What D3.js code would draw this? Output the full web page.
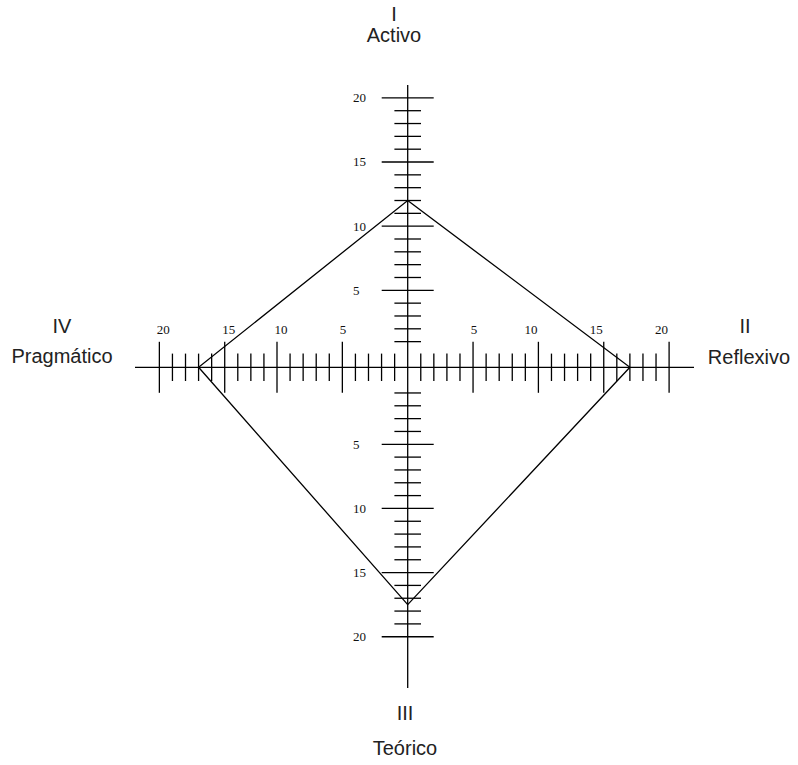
<!DOCTYPE html>
<html>
<head>
<meta charset="utf-8">
<script src="https://cdn.jsdelivr.net/npm/d3@7"></script>
<style>
  body { margin: 0; background: #fff; }
  svg { display: block; }
  .axis line { stroke: #000; stroke-width: 1.3; }
  .tick-label { font-family: "Liberation Serif", "Times New Roman", serif; font-size: 13px; fill: #111; }
  .roman, .style-name { font-family: "Liberation Sans", Arial, sans-serif; font-size: 20px; fill: #222; }
</style>
</head>
<body>
<svg width="798" height="765"></svg>
<script>
// learning styles (Honey-Alonso style profile)
const styles = ["Activo", "Reflexivo", "Teórico", "Pragmático"];
const romans = ["I", "II", "III", "IV"];
const scores = [12, 17, 17.5, 17];
const tickLabels = [5, 10, 15, 20];

// each arm was hand-drawn, so its value -> tick-unit mapping differs a little
const armDomain = [0, 5, 10, 15, 20];
const armUnits = [
  [1, 6, 11, 16, 21],   // top (Activo)
  [0, 5, 10, 15, 20],   // right (Reflexivo)
  [1, 6, 11, 16, 21],   // bottom (Teórico)
  [0, 5, 10, 14, 19]    // left (Pragmático)
];

const svg = d3.select("svg");
const cx = 407.7, cy = 367.3;
const unitV = 12.83, unitH = 13.07;

// direction of each arm: [dx, dy]
const dirs = [[0, -1], [1, 0], [0, 1], [-1, 0]];

const arms = styles.map((name, i) => {
  const unitScale = d3.scaleLinear().domain(armDomain).range(armUnits[i]);
  const px = dirs[i][0] !== 0 ? unitH : unitV;
  const dist = d3.scaleLinear().domain([0, 1]).range([0, px]);
  return {
    name, roman: romans[i], score: scores[i], dir: dirs[i],
    unitScale, dist,
    pos: v => {
      const d = dist(unitScale(v));
      return [cx + dirs[i][0] * d, cy + dirs[i][1] * d];
    },
    posUnit: u => {
      const d = dist(u);
      return [cx + dirs[i][0] * d, cy + dirs[i][1] * d];
    }
  };
});

const g = svg.append("g").attr("class", "axis");

// main axis lines
g.append("line").attr("x1", cx).attr("x2", cx).attr("y1", 85).attr("y2", 688);
g.append("line").attr("x1", 135).attr("x2", 694).attr("y1", cy).attr("y2", cy);

arms.forEach((arm, i) => {
  const horiz = arm.dir[0] !== 0;
  const first = Math.ceil(arm.unitScale(1));
  const last = arm.unitScale(20);
  const minor = d3.range(first, last + 1);
  const major = tickLabels.map(v => arm.unitScale(v));

  const armG = g.append("g").attr("class", "arm-" + i);

  armG.selectAll("line.minor")
    .data(minor.filter(u => !major.includes(u)))
    .enter().append("line")
      .attr("class", "minor")
      .each(function(u) {
        const [x, y] = arm.posUnit(u);
        const h = horiz ? 13.7 : 13.3;
        d3.select(this)
          .attr("x1", horiz ? x : x - h).attr("x2", horiz ? x : x + h)
          .attr("y1", horiz ? y - h : y).attr("y2", horiz ? y + h : y);
      });

  armG.selectAll("line.major")
    .data(tickLabels)
    .enter().append("line")
      .attr("class", "major")
      .each(function(v) {
        const [x, y] = arm.pos(v);
        const h = horiz ? 25.5 : 26;
        d3.select(this)
          .attr("x1", horiz ? x : x - h).attr("x2", horiz ? x : x + h)
          .attr("y1", horiz ? y - h : y).attr("y2", horiz ? y + h : y);
      });

  svg.selectAll("text.lbl-" + i)
    .data(tickLabels)
    .enter().append("text")
      .attr("class", "tick-label lbl-" + i)
      .text(d => d)
      .each(function(v) {
        const [x, y] = arm.pos(v);
        const t = d3.select(this);
        if (!horiz) {
          t.attr("x", 353).attr("y", y).attr("dy", "0.34em");
        } else if (arm.dir[0] < 0) {
          t.attr("x", x - 2.5).attr("y", 334).attr("text-anchor", "start");
        } else {
          t.attr("x", v === 5 ? x + 1 : x - 1).attr("y", 334)
            .attr("text-anchor", v === 5 ? "middle" : "end");
        }
      });
});

// score polygon
const line = d3.line().curve(d3.curveLinearClosed);
svg.append("path")
  .attr("d", line(arms.map(a => a.pos(a.score))))
  .attr("fill", "none")
  .attr("stroke", "#000")
  .attr("stroke-width", 1.3);

// style names
const titlePos = [
  { x: 394, yR: 21, yN: 42 },
  { x: 745, yR: 333, yN: 364 },
  { x: 405, yR: 720, yN: 755 },
  { x: 62, yR: 333, yN: 363 }
];

svg.selectAll("text.roman")
  .data(arms)
  .enter().append("text")
    .attr("class", "roman")
    .attr("text-anchor", "middle")
    .attr("x", (d, i) => titlePos[i].x)
    .attr("y", (d, i) => titlePos[i].yR)
    .text(d => d.roman);

svg.selectAll("text.style-name")
  .data(arms)
  .enter().append("text")
    .attr("class", "style-name")
    .attr("text-anchor", "middle")
    .attr("x", (d, i) => titlePos[i].x + (i === 1 ? 4 : 0))
    .attr("y", (d, i) => titlePos[i].yN)
    .text(d => d.name);
</script>
</body>
</html>
